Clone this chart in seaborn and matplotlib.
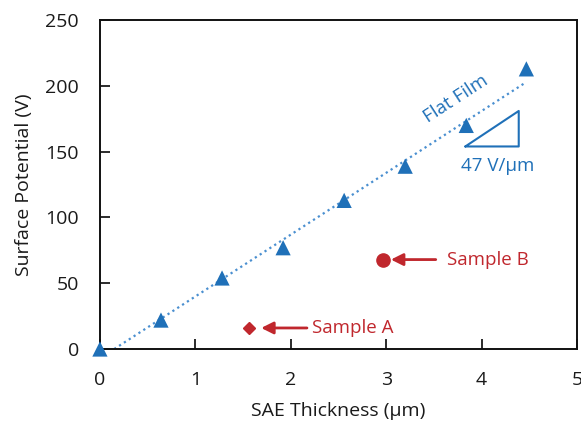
import numpy as np
import pandas as pd
import seaborn as sns
import matplotlib.pyplot as plt

# Flat film measurements
thickness = [0.0, 0.64, 1.28, 1.92, 2.56, 3.20, 3.84, 4.47]
potential = [0, 22, 54, 77, 113, 139, 170, 213]

# Linear fit (47 V/um) end points
fit_x = [0.15, 4.47]
fit_y = [0, 203]

# Samples
sample_a = (1.56, 16)
sample_b = (2.97, 68)

blue = '#1F70B8'
red = '#C0272D'

sns.set_style('ticks')
plt.rcParams['font.family'] = ['Open Sans', 'DejaVu Sans']

fig = plt.figure(figsize=(5.81, 4.21), dpi=100)
ax = fig.add_axes([0.172, 0.171, 0.821, 0.781])

df = pd.DataFrame({'x': thickness, 'y': potential})
sns.lineplot(x=fit_x, y=fit_y, ax=ax, color='#4A8FD0', linestyle=(0, (1, 1.6)), linewidth=1.6)
sns.scatterplot(data=df, x='x', y='y', ax=ax, marker='^', s=120, color=blue, edgecolor='none', zorder=3, clip_on=False)
ax.plot(*sample_a, marker='D', markersize=6, color=red, linestyle='none')
ax.plot(*sample_b, marker='o', markersize=9.5, color=red, linestyle='none')

# arrows + labels
ax.annotate('', xy=(1.69, 16), xytext=(2.17, 16),
            arrowprops=dict(arrowstyle='-|>,head_length=0.6,head_width=0.3', color=red, lw=2,
                            mutation_scale=12, shrinkA=0, shrinkB=0))
ax.text(2.22, 16, 'Sample A', color=red, fontsize=13.5, va='center', ha='left')
ax.annotate('', xy=(3.05, 68), xytext=(3.52, 68),
            arrowprops=dict(arrowstyle='-|>,head_length=0.6,head_width=0.3', color=red, lw=2,
                            mutation_scale=12, shrinkA=0, shrinkB=0))
ax.text(3.64, 68, 'Sample B', color=red, fontsize=13.5, va='center', ha='left')

# slope triangle
ax.plot([3.83, 4.39, 4.39, 3.83], [154, 154, 181, 154], color=blue, lw=1.5)
ax.text(4.17, 139, '47 V/\u03bcm', color=blue, fontsize=13.5, ha='center', va='center')
ax.text(3.73, 190, 'Flat Film', color=blue, fontsize=13.5, ha='center', va='center', rotation=33)

ax.set_xlim(0, 5)
ax.set_ylim(0, 250)
ax.set_xticks([0, 1, 2, 3, 4, 5])
ax.set_yticks([0, 50, 100, 150, 200, 250])
ax.tick_params(direction='in', length=7, width=1.3, labelsize=14, colors='#1a1a1a')
ax.tick_params(axis='x', pad=16)
ax.tick_params(axis='y', pad=15)
for s in ax.spines.values():
    s.set_linewidth(1.4)
    s.set_color('#111111')
ax.set_xlabel('SAE Thickness (\u03bcm)', fontsize=14, labelpad=9, color='#1a1a1a')
ax.set_ylabel('Surface Potential (V)', fontsize=14, labelpad=9, color='#1a1a1a')

fig.savefig('out.png', dpi=100)
